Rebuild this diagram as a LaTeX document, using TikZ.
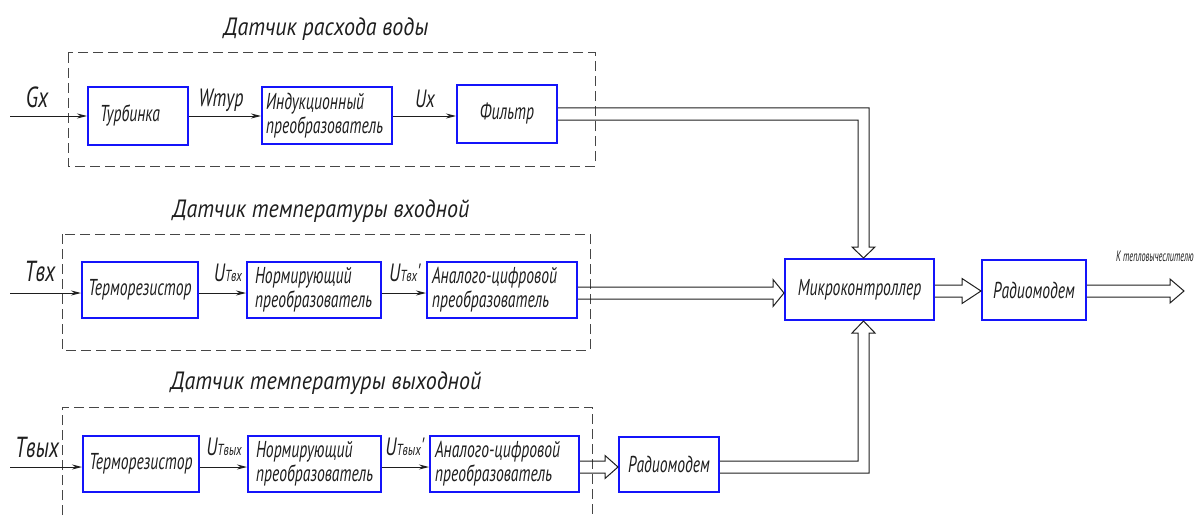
\documentclass[tikz,border=0pt]{standalone}
\usepackage{fontspec}
\newfontfamily\gost{PT Sans}[FakeStretch=0.68]
\newfontfamily\gostlbl{PT Sans}[FakeStretch=0.72]
\newfontfamily\gostwide{PT Sans}[FakeStretch=0.88]
\newfontfamily\gostnarrow{PT Sans}[FakeStretch=0.55]
\usetikzlibrary{arrows.meta,calc}
\definecolor{boxblue}{RGB}{20,20,250}
\definecolor{ink}{RGB}{30,30,30}
\definecolor{frame}{RGB}{70,70,70}
\newcommand{\boxfont}{\gost\itshape\fontsize{23}{24}\selectfont}
\newcommand{\lblfont}{\gostlbl\itshape\fontsize{25}{25}\selectfont}
\newcommand{\bigfont}{\gostlbl\itshape\fontsize{29}{29}\selectfont}
\newcommand{\subfont}{\fontsize{16}{16}\selectfont}
% hollow double-line bus arrow: start, tip, half gap, head half width, head length
\newcommand{\hbus}[5]{%
  \draw[bus] ([yshift=#3]#1) -- ([xshift=-#5,yshift=#3]#2) -- ([xshift=-#5,yshift=#4]#2) -- (#2)
    -- ([xshift=-#5,yshift=-#4]#2) -- ([xshift=-#5,yshift=-#3]#2) -- ([yshift=-#3]#1);}
\begin{document}
\begin{tikzpicture}[x=1pt,y=-1pt,
  blk/.style={draw=boxblue, line width=2pt, inner sep=0pt, text=ink, font=\boxfont},
  lbl/.style={inner sep=0pt, text=ink, font=\lblfont},
  biglbl/.style={inner sep=0pt, text=ink, font=\bigfont},
  title/.style={inner sep=0pt, text=ink, font=\gostwide\itshape\fontsize{25}{26}\selectfont},
  sig/.style={draw=ink, line width=1pt, -{Stealth[length=10pt,width=5pt]}},
  bus/.style={draw=ink, line width=1pt},
  frm/.style={draw=frame, line width=1pt, dash pattern=on 10pt off 5pt}]
\useasboundingbox (0,0) rectangle (1195,519);

% ---- water flow sensor ----
\node[title] (t1) at (326,29) {Датчик расхода воды};
\draw[frm] (68,53) rectangle (595,166);
\node[blk, minimum height=57pt, text width=76pt, inner xsep=12pt, align=left] (turb) at (138,116) {Турбинка};
\node[blk, minimum height=57pt, text width=122pt, inner xsep=4pt, align=left] (ind) at (327,115.5) {\mbox{Индукционный}\\\mbox{преобразователь}};
\node[blk, minimum width=100pt, minimum height=58pt] (filt) at (507,114) {Фильтр};
\coordinate (in1) at (10,116);
\node[biglbl] (gx) at (37,97) {Gx};
\node[lbl] (wt) at (221,100) {Wтур};
\node[lbl] (ux) at (425,99) {Uх};
\draw[sig] (in1) -- (in1 -| turb.west);
\draw[sig] (turb.east |- in1) -- (ind.west |- in1);
\draw[sig] (ind.east |- in1) -- (filt.west |- in1);

% ---- inlet temperature sensor ----
\node[title] (t2) at (321,211) {Датчик температуры входной};
\draw[frm] (62,234) rectangle (590,350);
\node[blk, minimum width=116pt, minimum height=56pt] (th1) at (140,290) {Терморезистор};
\node[blk, minimum height=56pt, text width=118pt, inner xsep=8pt, align=left] (nr1) at (314,290) {\mbox{Нормирующий}\\\mbox{преобразователь}};
\node[blk, minimum height=56pt, text width=140pt, inner xsep=5pt, align=left] (adc1) at (502,290) {\mbox{Аналого-цифровой}\\\mbox{преобразователь}};
\coordinate (in2) at (10,293);
\node[biglbl] (tin) at (40,271) {Tвх};
\node[lbl] (ut1) at (228,273) {U{\subfont Tвх}};
\node[lbl] (ut1p) at (405,273) {U{\subfont Tвх}'};
\draw[sig] (in2) -- (in2 -| th1.west);
\draw[sig] (th1.east |- in2) -- (nr1.west |- in2);
\draw[sig] (nr1.east |- in2) -- (adc1.west |- in2);

% ---- outlet temperature sensor ----
\node[title] (t3) at (326,383) {Датчик температуры выходной};
\draw[frm] (62,545) -- (62,407) -- (592,407) -- (592,545);
\node[blk, minimum width=116pt, minimum height=56pt] (th2) at (141,464) {Терморезистор};
\node[blk, minimum height=56pt, text width=117pt, inner xsep=8pt, align=left] (nr2) at (314.5,464) {\mbox{Нормирующий}\\\mbox{преобразователь}};
\node[blk, minimum height=56pt, text width=139pt, inner xsep=5pt, align=left] (adc2) at (504.5,464) {\mbox{Аналого-цифровой}\\\mbox{преобразователь}};
\coordinate (in3) at (10,467);
\node[biglbl] (tout) at (37,447) {Tвых};
\node[lbl] (ut2) at (224,447) {U{\subfont Tвых}};
\node[lbl] (ut2p) at (405,447) {U{\subfont Tвых}'};
\draw[sig] (in3) -- (in3 -| th2.west);
\draw[sig] (th2.east |- in3) -- (nr2.west |- in3);
\draw[sig] (nr2.east |- in3) -- (adc2.west |- in3);
\node[blk, minimum width=100pt, minimum height=55pt] (rad2) at (669,464.5) {Радиомодем};

% ---- controller and transmitter ----
\node[blk, minimum width=149pt, minimum height=61pt] (mcu) at (859.5,289.5) {Микроконтроллер};
\node[blk, minimum width=104pt, minimum height=60pt] (rad1) at (1034,290) {Радиомодем};
\node[inner sep=0pt, anchor=west, text=ink, font=\gostnarrow\itshape\fontsize{15}{15}\selectfont] (dest) at (1116,256) {К тепловычеслителю};

% ---- data buses ----
\coordinate (tipT) at ([xshift=4pt]mcu.north);
\coordinate (tipB) at ([xshift=4pt]mcu.south);
\draw[bus] ([yshift=-6pt]filt.east) -| ($(tipT)+(-5.5,-11)$) -- ++(-6,0) -- (tipT) -- ++(11.5,-11) -- ++(-6,0) |- ([yshift=6pt]filt.east);
\coordinate (r2o) at ([yshift=-2.5pt]rad2.east);
\draw[bus] ([yshift=6pt]r2o) -| ($(tipB)+(-5.5,12)$) -- ++(-6,0) -- (tipB) -- ++(11.5,12) -- ++(-6,0) |- ([yshift=-6pt]r2o);

\coordinate (a1o) at ([yshift=-3pt]adc1.east);
\coordinate (m1i) at (mcu.west |- a1o);
\hbus{a1o}{m1i}{6pt}{13.5pt}{11pt}
\coordinate (mo) at ([yshift=-1.5pt]mcu.east);
\coordinate (r1i) at (rad1.west |- mo);
\hbus{mo}{r1i}{6pt}{12.5pt}{19pt}
\coordinate (r1o) at (rad1.east |- mo);
\coordinate (out) at (1184,291);
\hbus{r1o}{out}{6pt}{12pt}{14pt}
\coordinate (a2o) at ([yshift=-3pt]adc2.east);
\coordinate (r2i) at (rad2.west |- a2o);
\hbus{a2o}{r2i}{6pt}{11.5pt}{13pt}
\end{tikzpicture}
\end{document}
